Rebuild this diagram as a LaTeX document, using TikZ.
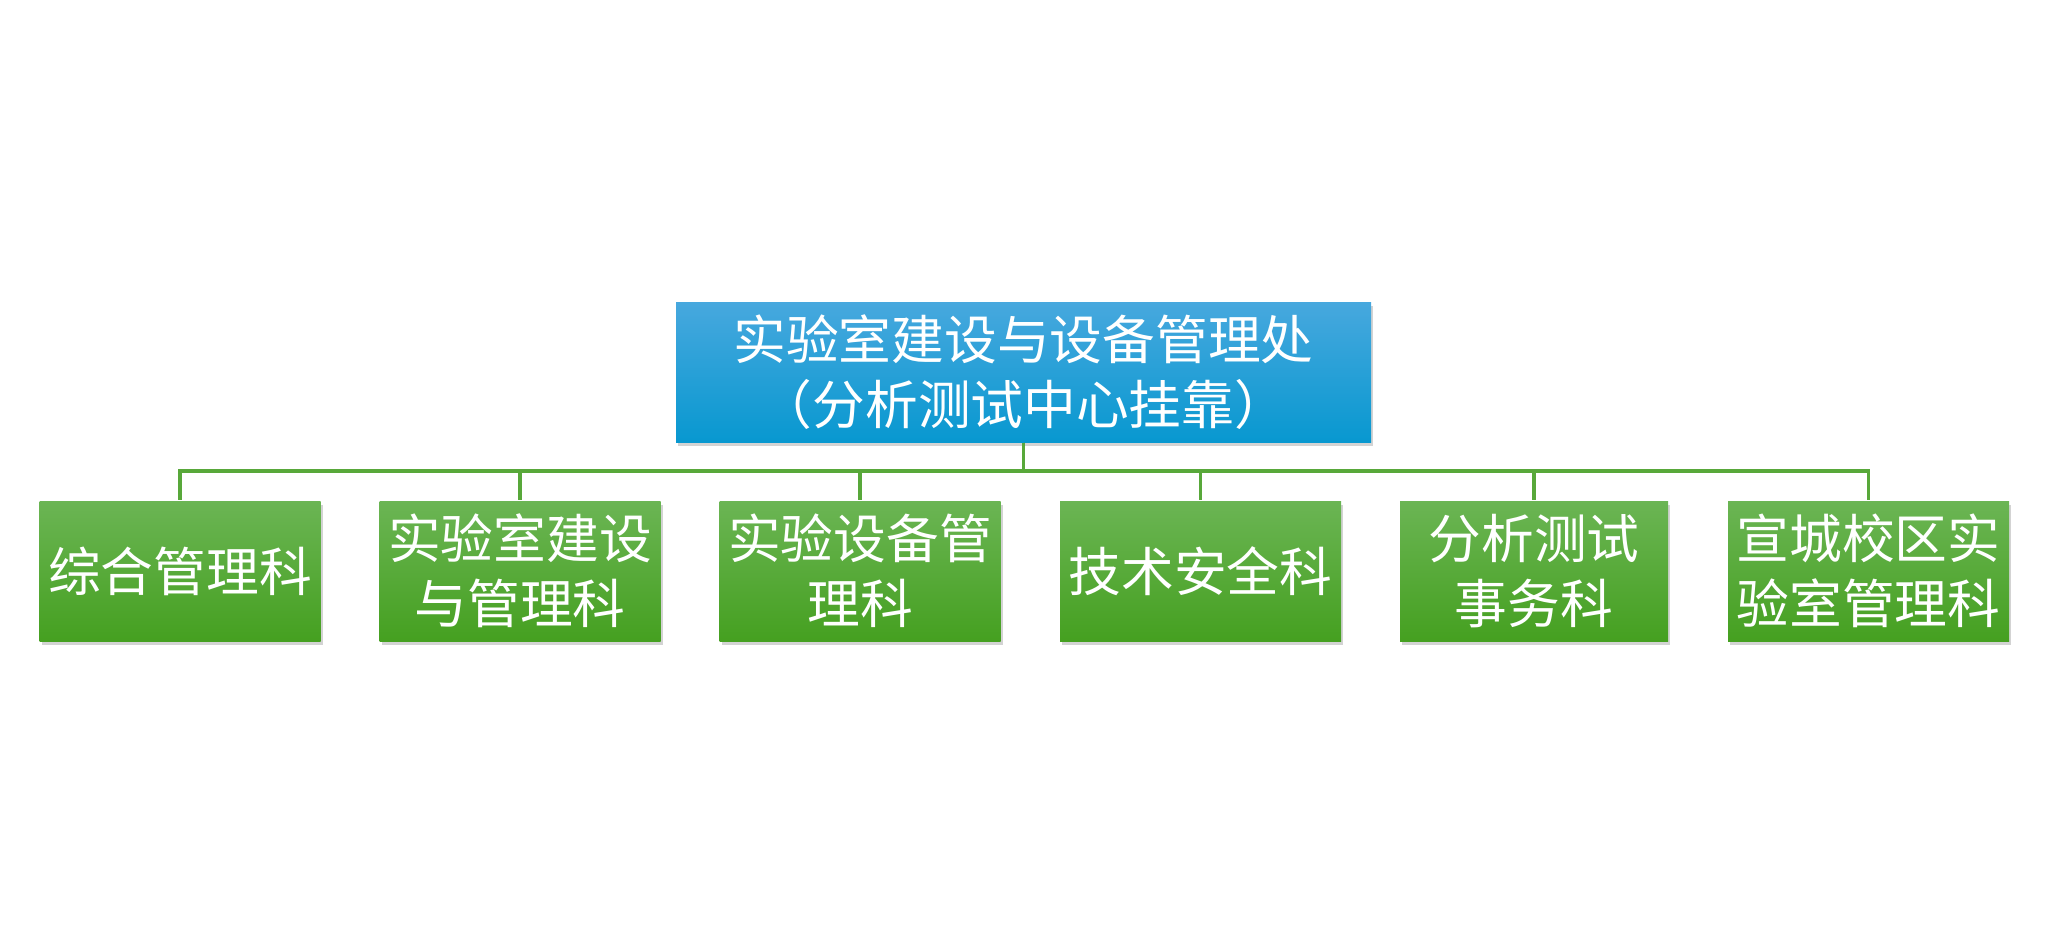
\documentclass[tikz,border=0pt]{standalone}
\usepackage{fontspec}
\newfontfamily\cjk{Noto Sans CJK SC}
\usetikzlibrary{shadows}
\definecolor{bluetop}{HTML}{47A8DE}
\definecolor{bluemid}{HTML}{0EA3DE}
\definecolor{bluebot}{HTML}{0898D0}
\definecolor{greentop}{HTML}{6BB554}
\definecolor{greenmid}{HTML}{4FAE30}
\definecolor{greenbot}{HTML}{45A020}
\definecolor{linkgreen}{HTML}{58A83A}
\tikzset{
  box/.style={inner sep=0pt, align=center, text=white,
    font=\cjk\fontsize{15}{18.5}\selectfont,
    minimum height=1.4cm,
    drop shadow={shadow xshift=0.02cm, shadow yshift=-0.04cm, opacity=0.35}},
  topbox/.style={box, minimum width=6.95cm,
    top color=bluetop, middle color=bluemid, bottom color=bluebot},
  kebox/.style={box, minimum width=2.81cm,
    top color=greentop, middle color=greenmid, bottom color=greenbot},
  link/.style={draw=linkgreen, line width=0.9pt}
}
\begin{document}
\begin{tikzpicture}
\useasboundingbox (0,0) rectangle (20.48,-9.43);
\node[topbox] (chu) at (10.235,-3.72) {实验室建设与设备管理处\\（分析测试中心挂靠）};
\coordinate (bus) at (0,-4.71);
\node[kebox] (ke1) at (1.80,-5.71) {综合管理科};
\node[kebox] (ke2) at (5.20,-5.71) {实验室建设\\与管理科};
\node[kebox] (ke3) at (8.60,-5.71) {实验设备管\\理科};
\node[kebox] (ke4) at (12.005,-5.71) {技术安全科};
\node[kebox, minimum width=2.68cm] (ke5) at (15.34,-5.71) {分析测试\\事务科};
\node[kebox] (ke6) at (18.685,-5.71) {宣城校区实\\验室管理科};
\foreach \i in {1,...,6}
\draw[link] (chu.south) -- (chu.south |- bus) -| (ke\i.north);
\end{tikzpicture}
\end{document}
